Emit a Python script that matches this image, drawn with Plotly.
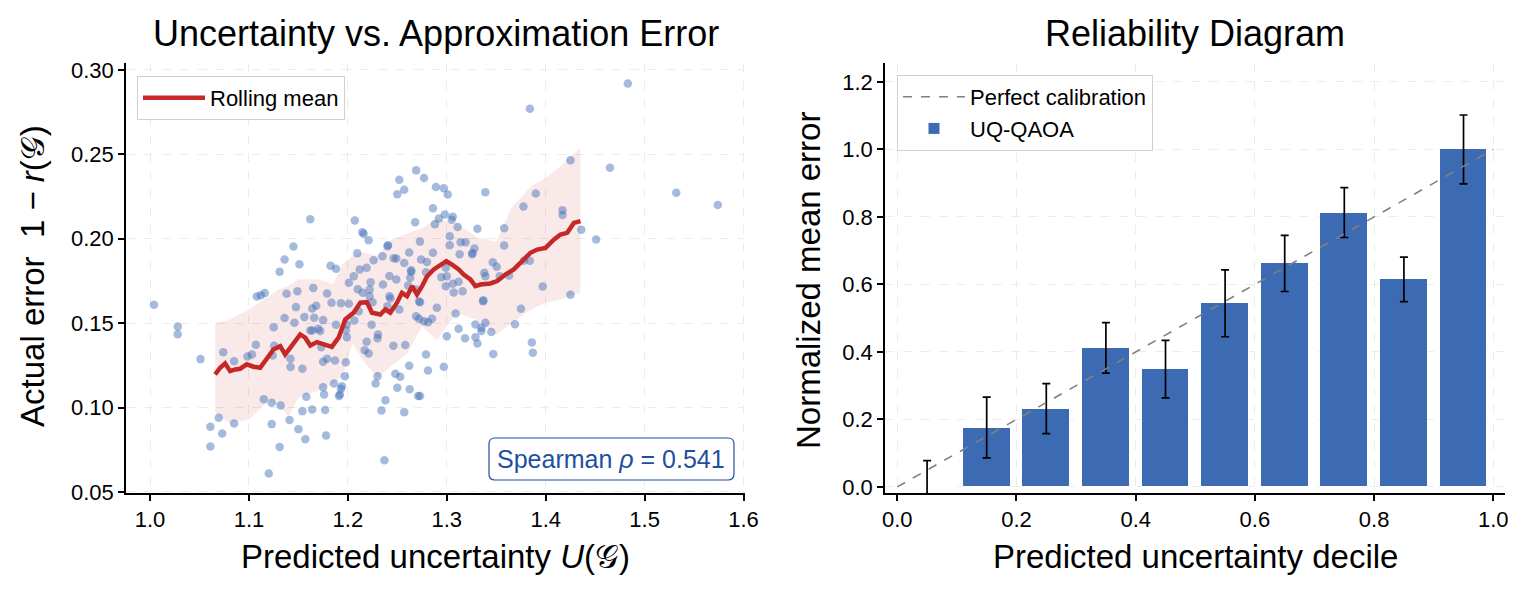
import plotly.graph_objects as go

# ---------------- Left panel data ----------------
unc_x = [1.269, 1.252, 1.277, 1.257, 1.250, 1.289, 1.286, 1.162, 1.207, 1.268,
         1.2146, 1.216, 1.221, 1.288, 1.145, 1.136, 1.151, 1.131, 1.1825, 1.188,
         1.2095, 1.2406, 1.240, 1.2729, 1.262, 1.2463, 1.249, 1.257, 1.286, 1.274,
         1.226, 1.235, 1.212, 1.219, 1.206, 1.264, 1.280, 1.292,
         1.483, 1.384, 1.425, 1.465, 1.532, 1.574, 1.390, 1.297, 1.301, 1.339,
         1.3775, 1.417, 1.417, 1.298, 1.306, 1.305, 1.311, 1.331, 1.358, 1.436,
         1.451, 1.303, 1.303, 1.314, 1.319, 1.358, 1.328, 1.313, 1.3256, 1.326,
         1.384, 1.378, 1.3465, 1.3505, 1.338, 1.299, 1.279, 1.2945, 1.300, 1.3535,
         1.363,
         1.397, 1.425, 1.375, 1.369, 1.339, 1.306, 1.299, 1.307, 1.316, 1.312,
         1.3367, 1.337, 1.290, 1.273, 1.309, 1.285, 1.281, 1.277, 1.312, 1.329,
         1.339, 1.335, 1.335, 1.345, 1.300, 1.3185, 1.329, 1.331, 1.347, 1.386,
         1.387, 1.279, 1.281, 1.297, 1.273,
         1.004, 1.028, 1.028, 1.051, 1.074, 1.085, 1.0985, 1.103, 1.107, 1.108,
         1.112, 1.116, 1.138, 1.149, 1.165, 1.179, 1.136, 1.125, 1.146, 1.156,
         1.1475, 1.164, 1.168, 1.166, 1.175, 1.162, 1.164, 1.170, 1.172, 1.173,
         1.1255, 1.124, 1.142, 1.142, 1.154, 1.175, 1.179, 1.187, 1.198, 1.197,
         1.186, 1.194, 1.193, 1.192, 1.191, 1.175, 1.176, 1.158, 1.115, 1.123,
         1.132, 1.154, 1.164, 1.177, 1.141, 1.123, 1.150, 1.157, 1.178, 1.131,
         1.120, 1.0695, 1.061, 1.073, 1.085, 1.061, 1.199, 1.198, 1.193, 1.201,
         1.1835, 1.188, 1.199, 1.2065, 1.211, 1.201, 1.210, 1.215, 1.222, 1.223,
         1.222, 1.225, 1.242, 1.2355, 1.249, 1.264, 1.242, 1.243, 1.252, 1.240,
         1.224, 1.219, 1.217, 1.221, 1.2305, 1.230, 1.230, 1.228, 1.238, 1.234,
         1.237, 1.246, 1.258, 1.248, 1.253, 1.250, 1.2625, 1.257, 1.262, 1.271,
         1.269, 1.272, 1.261, 1.269, 1.263, 1.272]
err_y = [0.2405, 0.2349, 0.2360, 0.2290, 0.2263, 0.2307, 0.2180, 0.2115, 0.2108, 0.2098,
         0.2038, 0.2030, 0.1991, 0.2086, 0.1954, 0.1877, 0.1849, 0.1804, 0.1840, 0.1822,
         0.1914, 0.1961, 0.1955, 0.1983, 0.1918, 0.1885, 0.1883, 0.1857, 0.1917, 0.1877,
         0.1873, 0.1897, 0.1818, 0.1828, 0.1778, 0.1814, 0.1863, 0.2120,
         0.2920, 0.2770, 0.2465, 0.2421, 0.2272, 0.2200, 0.2268, 0.2299, 0.2262, 0.2275,
         0.2191, 0.2169, 0.2141, 0.2143, 0.2131, 0.2112, 0.2070, 0.2059, 0.2062, 0.2054,
         0.1995, 0.2015, 0.1962, 0.1979, 0.1979, 0.1960, 0.1942, 0.1908, 0.1908, 0.1915,
         0.1869, 0.1869, 0.1861, 0.1834, 0.1798, 0.1828, 0.1802, 0.1772, 0.1778, 0.1778,
         0.1782,
         0.1717, 0.1668, 0.1585, 0.1494, 0.1778, 0.1733, 0.1719, 0.1681, 0.1689, 0.1745,
         0.1630, 0.1635, 0.1591, 0.1624, 0.1557, 0.1526, 0.1506, 0.1512, 0.1467, 0.1492,
         0.1502, 0.1473, 0.1453, 0.1447, 0.1423, 0.1411, 0.1417, 0.1380, 0.1317, 0.1386,
         0.1325, 0.1315, 0.1220, 0.1242, 0.1068,
         0.1609, 0.1480, 0.1435, 0.1287, 0.1328, 0.1275, 0.1303, 0.1315, 0.1372, 0.1658,
         0.1666, 0.1678, 0.1674, 0.1689, 0.1709, 0.1676, 0.1530, 0.1476, 0.1502, 0.1536,
         0.1595, 0.1587, 0.1603, 0.1532, 0.1518, 0.1457, 0.1457, 0.1467, 0.1453, 0.1358,
         0.1366, 0.1309, 0.1289, 0.1240, 0.1230, 0.1272, 0.1289, 0.1279, 0.1269, 0.1186,
         0.1143, 0.1126, 0.1112, 0.1078, 0.1068, 0.1120, 0.1078, 0.1064, 0.1050, 0.1029,
         0.1013, 0.0979, 0.0988, 0.0985, 0.0926, 0.0902, 0.0871, 0.0812, 0.0835, 0.0766,
         0.0609, 0.0940, 0.0887, 0.0847, 0.0905, 0.0769, 0.1417, 0.1458, 0.1618, 0.1615,
         0.1621, 0.1490, 0.1492, 0.1516, 0.1571, 0.1739, 0.1701, 0.1680, 0.1699, 0.1743,
         0.1660, 0.1624, 0.1780, 0.1729, 0.1759, 0.1804, 0.1660, 0.1646, 0.1581, 0.1600,
         0.1490, 0.1390, 0.1340, 0.1321, 0.1433, 0.1410, 0.1186, 0.1143, 0.1044, 0.0982,
         0.0688, 0.1366, 0.1370, 0.1200, 0.1183, 0.1118, 0.1108, 0.0973, 0.1248, 0.1068,
         0.1541, 0.1526, 0.1723, 0.1699, 0.1769, 0.1628]

roll_x = [1.0658, 1.0709, 1.0759, 1.0810, 1.0860, 1.0911, 1.0978, 1.1046, 1.1113, 1.1180,
          1.1248, 1.1316, 1.1366, 1.1417, 1.1468, 1.1518, 1.1569, 1.1620, 1.1687, 1.1754,
          1.1838, 1.1906, 1.1974, 1.2058, 1.2126, 1.2193, 1.2244, 1.2328, 1.2379, 1.2429,
          1.2497, 1.2547, 1.2598, 1.2649, 1.2699, 1.2750, 1.2801, 1.2868, 1.2935, 1.2996,
          1.3053, 1.3121, 1.3171, 1.3239, 1.3289, 1.3340, 1.3441, 1.3509, 1.3593, 1.3677,
          1.3762, 1.3846, 1.3914, 1.3998, 1.4082, 1.4150, 1.4217, 1.4285, 1.4352]
roll_y = [0.1197, 0.1236, 0.1262, 0.1216, 0.1226, 0.1230, 0.1256, 0.1242, 0.1236, 0.1295,
          0.1344, 0.1364, 0.1315, 0.1354, 0.1393, 0.1433, 0.1414, 0.1368, 0.1388, 0.1374,
          0.1360, 0.1414, 0.1522, 0.1562, 0.1621, 0.1624, 0.1562, 0.1551, 0.1581, 0.1562,
          0.1621, 0.1680, 0.1660, 0.1719, 0.1670, 0.1719, 0.1778, 0.1818, 0.1840, 0.1867,
          0.1847, 0.1818, 0.1788, 0.1759, 0.1719, 0.1729, 0.1735, 0.1749, 0.1788, 0.1818,
          0.1867, 0.1917, 0.1936, 0.1946, 0.1995, 0.2025, 0.2035, 0.2094, 0.2104]

band_x = [1.066, 1.080, 1.100, 1.120, 1.130, 1.140, 1.150, 1.170, 1.185, 1.195,
          1.205, 1.215, 1.230, 1.245, 1.260, 1.275, 1.290, 1.310, 1.330, 1.350,
          1.365, 1.385, 1.400, 1.415, 1.435]
band_upper = [0.150, 0.152, 0.158, 0.166, 0.170, 0.172, 0.176, 0.176, 0.173, 0.185,
              0.190, 0.192, 0.190, 0.200, 0.203, 0.206, 0.212, 0.209, 0.201, 0.198,
              0.218, 0.231, 0.236, 0.243, 0.254]
band_lower = [0.097, 0.091, 0.093, 0.104, 0.101, 0.095, 0.106, 0.110, 0.114, 0.119,
              0.138, 0.128, 0.118, 0.125, 0.132, 0.148, 0.140, 0.156, 0.152, 0.143,
              0.150, 0.158, 0.162, 0.164, 0.168]

spearman_rho = 0.541

# ---------------- Right panel data ----------------
decile_centers = [0.05, 0.15, 0.25, 0.35, 0.45, 0.55, 0.65, 0.75, 0.85, 0.95]
norm_mean_err = [0.0, 0.176, 0.232, 0.412, 0.349, 0.544, 0.662, 0.813, 0.615, 1.0]
norm_err_sd = [0.078, 0.090, 0.074, 0.075, 0.085, 0.099, 0.083, 0.074, 0.066, 0.102]
calib_x = [0.0, 1.0]
calib_y = [0.0, 1.0]

left_xticks = [1.0, 1.1, 1.2, 1.3, 1.4, 1.5, 1.6]
left_yticks = [0.05, 0.10, 0.15, 0.20, 0.25, 0.30]
right_xticks = [0.0, 0.2, 0.4, 0.6, 0.8, 1.0]
right_yticks = [0.0, 0.2, 0.4, 0.6, 0.8, 1.0, 1.2]

FONT = "Liberation Sans, Arial, Helvetica, sans-serif"
RED = "#c62828"
BLUE = "#3c6ab3"
W, H = 1530, 597

fig = go.Figure()

# band
fig.add_trace(go.Scatter(
    x=band_x + band_x[::-1], y=band_upper + band_lower[::-1],
    fill="toself", fillcolor="rgba(198,40,40,0.10)", line=dict(width=0),
    mode="lines", showlegend=False, hoverinfo="skip", xaxis="x", yaxis="y"))
# scatter
fig.add_trace(go.Scatter(
    x=unc_x, y=err_y, mode="markers",
    marker=dict(size=8.5, color="rgba(58,106,181,0.46)", line=dict(width=0)),
    showlegend=False, xaxis="x", yaxis="y"))
# rolling mean
fig.add_trace(go.Scatter(
    x=roll_x, y=roll_y, mode="lines", name="Rolling mean",
    line=dict(color=RED, width=4.5), legend="legend", xaxis="x", yaxis="y"))

# right panel
fig.add_trace(go.Scatter(
    x=calib_x, y=calib_y, mode="lines", name="Perfect calibration",
    line=dict(color="#808080", width=1.6, dash="dash"), legend="legend2",
    xaxis="x2", yaxis="y2"))
fig.add_trace(go.Bar(
    x=decile_centers, y=norm_mean_err, width=0.08, name="UQ-QAOA",
    marker=dict(color=BLUE, line=dict(color="white", width=1)),
    error_y=dict(type="data", array=norm_err_sd, color="black", thickness=1.7, width=4),
    legend="legend2", xaxis="x2", yaxis="y2"))

px_l, px_r = 126, 745
px_l2, px_r2 = 885, 1505
py_t, py_b = 63, 493
ydom = [(H - py_b) / H, (H - py_t) / H]

axis_common = dict(
    showline=True, linecolor="black", linewidth=1.5, mirror=False,
    ticks="outside", ticklen=6, tickwidth=1.5, tickcolor="black",
    showgrid=True, gridcolor="#ececec", gridwidth=1, griddash="dash",
    zeroline=False, automargin=False,
    tickfont=dict(family=FONT, size=22, color="black"))

fig.update_layout(
    width=W, height=H, margin=dict(l=0, r=0, t=0, b=0),
    paper_bgcolor="white", plot_bgcolor="white",
    font=dict(family=FONT, color="black"),
    bargap=0,
    xaxis=dict(domain=[px_l / W, px_r / W], range=[0.9757, 1.6015], anchor="y",
               tickvals=left_xticks, ticktext=[f"{v:.1f}" for v in left_xticks], **axis_common),
    yaxis=dict(domain=ydom, range=[0.0494, 0.3041], anchor="x",
               tickvals=left_yticks, ticktext=[f"{v:.2f}" for v in left_yticks], **axis_common),
    xaxis2=dict(domain=[px_l2 / W, px_r2 / W], range=[-0.0206, 1.0196], anchor="y2",
                tickvals=right_xticks, ticktext=[f"{v:.1f}" for v in right_xticks], **axis_common),
    yaxis2=dict(domain=ydom, range=[-0.018, 1.256], anchor="x2",
                tickvals=right_yticks, ticktext=[f"{v:.1f}" for v in right_yticks], **axis_common),
    legend=dict(x=137 / W, y=(H - 76) / H, xanchor="left", yanchor="top",
                bgcolor="white", bordercolor="#d0d0d0", borderwidth=1, itemwidth=62,
                font=dict(family=FONT, size=22, color="black")),
    legend2=dict(x=897 / W, y=(H - 75) / H, xanchor="left", yanchor="top",
                 bgcolor="white", bordercolor="#d0d0d0", borderwidth=1, itemwidth=62,
                 font=dict(family=FONT, size=22, color="black"), traceorder="normal"),
)

# titles and axis labels
ann = []
ann.append(dict(text="Uncertainty vs. Approximation Error", x=(px_l + px_r) / 2 / W, y=(H - 33) / H,
                xref="paper", yref="paper", showarrow=False, xanchor="center", yanchor="middle",
                font=dict(family=FONT, size=36, color="black")))
ann.append(dict(text="Reliability Diagram", x=(px_l2 + px_r2) / 2 / W, y=(H - 33) / H,
                xref="paper", yref="paper", showarrow=False, xanchor="center", yanchor="middle",
                font=dict(family=FONT, size=36, color="black")))
ann.append(dict(text="Predicted uncertainty <i>U</i>(𝒢)", x=(px_l + px_r) / 2 / W, y=(H - 556) / H,
                xref="paper", yref="paper", showarrow=False, xanchor="center", yanchor="middle",
                font=dict(family=FONT, size=33, color="black")))
ann.append(dict(text="Predicted uncertainty decile", x=(px_l2 + px_r2) / 2 / W, y=(H - 556) / H,
                xref="paper", yref="paper", showarrow=False, xanchor="center", yanchor="middle",
                font=dict(family=FONT, size=33, color="black")))
ann.append(dict(text="Actual error  1 − <i>r</i>(𝒢)", x=32 / W, y=(H - 276) / H, textangle=-90,
                xref="paper", yref="paper", showarrow=False, xanchor="center", yanchor="middle",
                font=dict(family=FONT, size=33, color="black")))
ann.append(dict(text="Normalized mean error", x=808 / W, y=(H - 281) / H, textangle=-90,
                xref="paper", yref="paper", showarrow=False, xanchor="center", yanchor="middle",
                font=dict(family=FONT, size=33, color="black")))
ann.append(dict(text=f"Spearman <i>ρ</i> = {spearman_rho:.3f}", x=0.7843, y=0.079,
                xref="x domain", yref="y domain", showarrow=False, xanchor="center", yanchor="middle",
                font=dict(family=FONT, size=25, color="#1f4f9f")))
fig.update_layout(annotations=ann)

# rounded box around the Spearman annotation
x0, x1, y0, y1 = 0.5864, 0.9822, 0.0302, 0.1279
rx, ry = 0.0097, 0.014
path = (f"M {x0+rx},{y0} L {x1-rx},{y0} Q {x1},{y0} {x1},{y0+ry} L {x1},{y1-ry} "
        f"Q {x1},{y1} {x1-rx},{y1} L {x0+rx},{y1} Q {x0},{y1} {x0},{y1-ry} "
        f"L {x0},{y0+ry} Q {x0},{y0} {x0+rx},{y0} Z")
fig.add_shape(type="path", path=path, xref="x domain", yref="y domain",
              line=dict(color="#1f4f9f", width=1.2), fillcolor="rgba(255,255,255,0.9)",
              layer="above")

fig.write_html("out.html")
